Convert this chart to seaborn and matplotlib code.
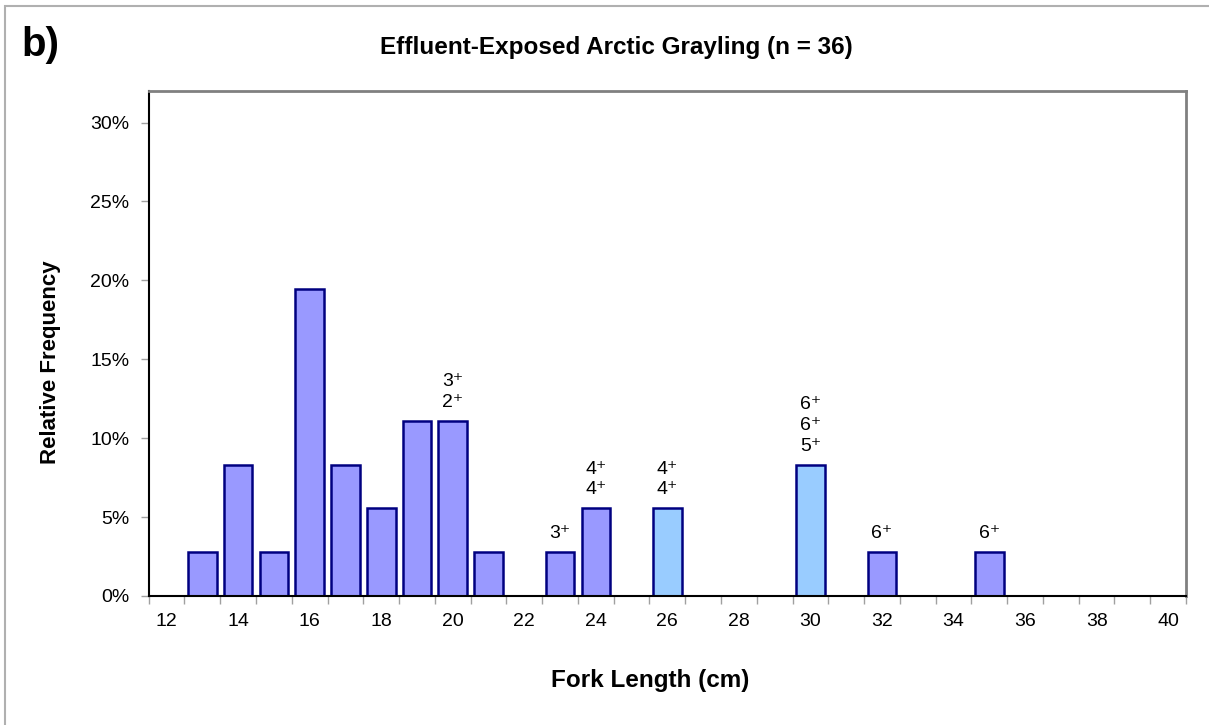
import matplotlib
matplotlib.use("Agg")
import matplotlib.pyplot as plt
from matplotlib.patches import Rectangle
from matplotlib.ticker import FixedLocator, PercentFormatter
import pandas as pd
import seaborn as sns

# %% data
fork_length = list(range(12, 41))
rel_freq = [0.0, 0.0278, 0.0833, 0.0278, 0.1944, 0.0833, 0.0556, 0.1111, 0.1111,
            0.0278, 0.0, 0.0278, 0.0556, 0.0, 0.0556, 0.0, 0.0, 0.0, 0.0833, 0.0,
            0.0278, 0.0, 0.0, 0.0278, 0.0, 0.0, 0.0, 0.0, 0.0]
highlight_lengths = [26, 30]
age_labels = {20: "3⁺\n2⁺", 23: "3⁺", 24: "4⁺\n4⁺", 26: "4⁺\n4⁺",
              30: "6⁺\n6⁺\n5⁺", 32: "6⁺", 35: "6⁺"}
tick_labels = [str(v) for v in fork_length[::2]]

df = pd.DataFrame({"length": [str(v) for v in fork_length], "freq": rel_freq})
df["group"] = ["aged" if v in highlight_lengths else "base" for v in fork_length]

# %% styling
sns.set_style("white")
plt.rcParams["font.family"] = ["Liberation Sans", "DejaVu Sans"]
plt.rcParams["text.color"] = "black"
plt.rcParams["axes.labelcolor"] = "black"

fig = plt.figure(figsize=(12.09, 7.25), dpi=100)
ax = fig.add_axes([0.123, 0.178, 0.858, 0.6965])

sns.barplot(data=df, x="length", y="freq", hue="group",
            palette={"base": "#9999FF", "aged": "#99CCFF"}, saturation=1,
            order=[str(v) for v in fork_length], dodge=False, width=0.8,
            edgecolor="#000080", linewidth=1.8, legend=False, ax=ax)

# age annotations above bars
for length, txt in age_labels.items():
    i = fork_length.index(length)
    ax.annotate(txt, (i, rel_freq[i]), xytext=(0, 7), textcoords="offset points",
                ha="center", va="bottom", fontsize=14, linespacing=1.3,
                color="black", family=["Liberation Sans", "DejaVu Sans"])

ax.set_xlim(-0.5, len(fork_length) - 0.5)
ax.set_ylim(0, 0.32)
ax.set_yticks([0, 0.05, 0.10, 0.15, 0.20, 0.25, 0.30])
ax.yaxis.set_major_formatter(PercentFormatter(1.0, decimals=0))
ax.set_xticks(range(0, len(fork_length), 2))
ax.set_xticklabels(tick_labels)
ax.xaxis.set_minor_locator(FixedLocator([i - 0.5 for i in range(len(fork_length) + 1)]))
ax.tick_params(axis="x", which="major", length=0, pad=12, labelsize=14, labelcolor="black")
ax.tick_params(axis="x", which="minor", length=6, width=1, color="#a0a0a0",
               direction="out", bottom=True)
ax.tick_params(axis="y", length=6, width=1, color="#a0a0a0", pad=8, labelsize=14,
               labelcolor="black", left=True)

for side in ["left", "bottom"]:
    ax.spines[side].set_color("black")
    ax.spines[side].set_linewidth(1.5)
for side in ["top", "right"]:
    ax.spines[side].set_visible(True)
    ax.spines[side].set_color("#808080")
    ax.spines[side].set_linewidth(2)

ax.set_xlabel("Fork Length (cm)", fontsize=17.5, fontweight="bold", va="center")
ax.xaxis.set_label_coords(0.483, -0.168)
ax.set_ylabel("Relative Frequency", fontsize=16, fontweight="bold", va="center")
ax.yaxis.set_label_coords(-0.095, 0.463)

fig.text(0.51, 0.935, "Effluent-Exposed Arctic Grayling (n = 36)", ha="center",
         va="center", fontsize=17.5, fontweight="bold")
fig.text(0.018, 0.938, "b)", ha="left", va="center", fontsize=29, fontweight="bold")

# outer frame of the figure
fig.patches.append(Rectangle((5 / 1209, -0.1), 1.2, 1 - 6 / 725 + 0.1,
                             transform=fig.transFigure, fill=False,
                             edgecolor="#b0b0b0", linewidth=1.5))

fig.savefig("out.png", dpi=100)
